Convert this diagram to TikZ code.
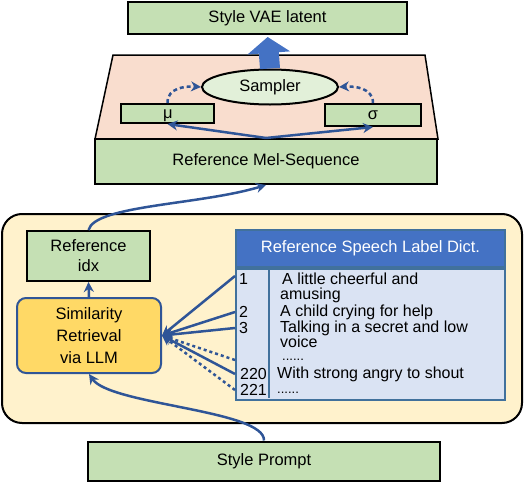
\documentclass[tikz,border=0pt]{standalone}
\usepackage{fontspec}
\setmainfont{Liberation Sans}
\usetikzlibrary{shapes.geometric, arrows.meta}
\definecolor{boxgreen}{RGB}{197,224,180}
\definecolor{palegreen}{RGB}{226,240,217}
\definecolor{pinkbg}{RGB}{249,221,206}
\definecolor{yellowbg}{RGB}{255,242,204}
\definecolor{llmyellow}{RGB}{255,217,102}
\definecolor{linkblue}{RGB}{47,85,151}
\definecolor{headblue}{RGB}{68,114,196}
\definecolor{dictblue}{RGB}{218,227,243}
\definecolor{dictedge}{RGB}{65,113,156}
\tikzstyle{boxes} = [rectangle, draw=black, line width=2pt, fill=boxgreen, inner sep=0pt, align=center]
\tikzstyle{smallbox} = [rectangle, draw=black, line width=2pt, fill=boxgreen, inner sep=0pt]
\tikzstyle{llmbox} = [rectangle, rounded corners=9pt, draw=linkblue, line width=2pt, fill=llmyellow, minimum width=144pt, minimum height=75pt, align=center, font=\fontsize{16.5}{22}\selectfont]
\tikzstyle{rowtext} = [inner sep=0pt, anchor=west, font=\fontsize{16}{18}\selectfont]
\tikzstyle{dotstext} = [inner sep=0pt, anchor=west, font=\fontsize{13}{15}\selectfont]
\tikzstyle{arrow} = [draw=linkblue, line width=2.5pt, -{Stealth[length=10pt, width=10pt]}]
\tikzstyle{dasharrow} = [arrow, dash pattern=on 4pt off 3pt]
\tikzstyle{dotarrow} = [arrow, dash pattern=on 3pt off 3pt]
\tikzstyle{blockarrow} = [draw=headblue, line width=20pt, -{Triangle[length=16pt, width=42pt]}, shorten >=2pt]

\begin{document}
\begin{tikzpicture}[x=1pt, y=-1pt, font=\fontsize{16.5}{20}\selectfont]
    \useasboundingbox (0,0) rectangle (528,482);

    % VAE part
    \node (latent) [boxes, minimum width=279pt, minimum height=32pt] at (267.5,18) {Style VAE latent};
    \draw[black, line width=1.5pt, fill=pinkbg] (113,55) -- (425,55) -- (438,139) -- (95,139) -- cycle;
    \node (mel) [boxes, minimum width=342pt, minimum height=45pt] at (266,161.5) {Reference Mel-Sequence};
    \node (sampler) [ellipse, draw=black, line width=2pt, fill=palegreen, minimum width=136pt, minimum height=35pt, inner sep=0pt] at (270,87) {Sampler};
    \node (mu) [smallbox, minimum width=93pt, minimum height=19pt] at (167.5,113.5) {};
    \node (sigma) [smallbox, minimum width=96pt, minimum height=22pt] at (373,115) {};
    \node (mutext) at (168,116) {μ};
    \node (sigmatext) at (373,115) {σ};

    \draw[blockarrow] (sampler.north) -- (latent.south);
    \draw[dasharrow] (mu.north) .. controls (167,88) and (185,86) .. (sampler.west);
    \draw[dasharrow] (sigma.north) .. controls (373,88) and (355,86) .. (sampler.east);
    \draw[arrow] (mel.north) -- (mu.south);
    \draw[arrow] (mel.north) -- (sigma.south);

    % retrieval part
    \draw[black, line width=2pt, fill=yellowbg, rounded corners=20pt] (2,214) rectangle (522,423);
    \node (idx) [boxes, minimum width=123pt, minimum height=50pt] at (88.5,256) {Reference\\idx};
    \node (llm) [llmbox] at (89,335.5) {Similarity\\Retrieval\\via LLM};

    \node (dict) [rectangle, draw=dictedge, line width=2pt, fill=headblue, text=white, minimum width=269pt, minimum height=37pt] at (370.5,248.5) {Reference Speech Label Dict.};
    \node (dictbody) [rectangle, draw=dictedge, line width=2pt, fill=dictblue, minimum width=269pt, minimum height=131pt, anchor=north] at (dict.south) {};
    \draw[dictedge, line width=2pt] (269,267) -- (269,398);

    \node (n1) [rowtext] at (239,279) {1};
    \node (r1) [rowtext] at (282,279) {A little cheerful and};
    \node (r1b) [rowtext] at (280,295) {amusing};
    \node (n2) [rowtext] at (239,312) {2};
    \node (r2) [rowtext] at (280,312) {A child crying for help};
    \node (n3) [rowtext] at (239,328) {3};
    \node (r3) [rowtext] at (280,328) {Talking in a secret and low};
    \node (r3b) [rowtext] at (280,342) {voice};
    \node (dots) [dotstext] at (282,360) {......};
    \node (n220) [rowtext] at (240,374) {220};
    \node (r220) [rowtext] at (277,374) {With strong angry to shout};
    \node (n221) [rowtext] at (240,390) {221};
    \node (r221) [dotstext] at (277,393) {......};

    \draw[arrow] ([yshift=3pt]dictbody.west |- n1) -- (llm.east);
    \draw[arrow] (dictbody.west |- n2) -- (llm.east);
    \draw[arrow] (dictbody.west |- n3) -- (llm.east);
    \draw[dotarrow] (dictbody.west |- dots) -- (llm.east);
    \draw[arrow] (dictbody.west |- n220) -- (llm.east);
    \draw[dotarrow] (dictbody.west |- n221) -- (llm.east);

    \draw[arrow] (llm.north) -- (idx.south);
    \draw[arrow] (idx.north) .. controls (95,205) and (200,205) .. (mel.south);

    % prompt
    \node (prompt) [boxes, minimum width=352pt, minimum height=39pt] at (264,461) {Style Prompt};
    \draw[arrow] (prompt.north) .. controls (265,410) and (110,405) .. (llm.south);

\end{tikzpicture}
\end{document}
